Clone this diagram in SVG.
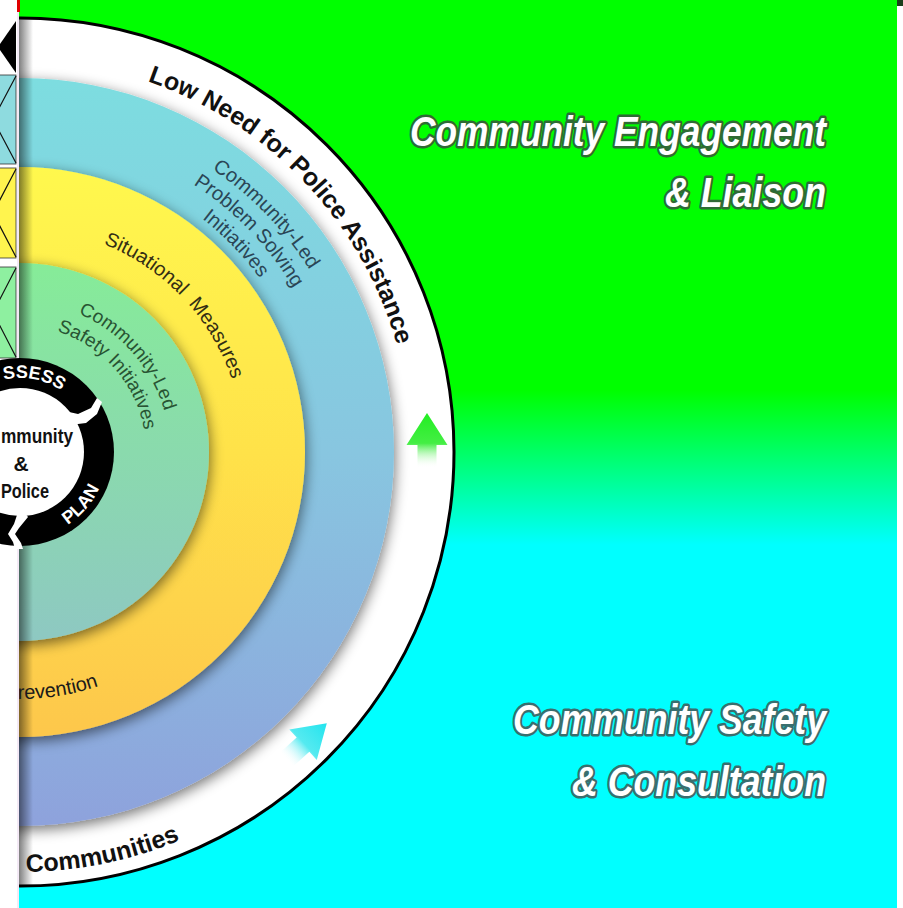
<svg xmlns="http://www.w3.org/2000/svg" width="903" height="908" viewBox="0 0 903 908">
<style>
.ring{font-family:"Liberation Sans",Arial,sans-serif;}
.big{font-family:"Liberation Sans",Arial,sans-serif;font-weight:bold;font-style:italic;font-size:42px;fill:#ffffff;paint-order:stroke;stroke-width:5;stroke-linejoin:round;text-anchor:end;}
.tile{stroke:#333;stroke-width:0.8;}
.x{stroke:#111;stroke-width:1.2;fill:none;}
</style>
<defs>
<linearGradient id="bg" x1="0" y1="0" x2="0" y2="908" gradientUnits="userSpaceOnUse">
<stop offset="0" stop-color="#00ff00"/><stop offset="0.43" stop-color="#00ff00"/><stop offset="0.6" stop-color="#00ffff"/><stop offset="1" stop-color="#00ffff"/>
</linearGradient>
<linearGradient id="blueG" x1="0" y1="78" x2="0" y2="826" gradientUnits="userSpaceOnUse">
<stop offset="0" stop-color="#7ddde0"/><stop offset="0.5" stop-color="#88c6e0"/><stop offset="1" stop-color="#8ea2dc"/>
</linearGradient>
<linearGradient id="yelG" x1="0" y1="167" x2="0" y2="737" gradientUnits="userSpaceOnUse">
<stop offset="0" stop-color="#fff84e"/><stop offset="0.5" stop-color="#ffe24a"/><stop offset="1" stop-color="#fdc74c"/>
</linearGradient>
<linearGradient id="grnG" x1="0" y1="262" x2="0" y2="642" gradientUnits="userSpaceOnUse">
<stop offset="0" stop-color="#86ec98"/><stop offset="1" stop-color="#8ec8c2"/>
</linearGradient>
<linearGradient id="edge" x1="19" y1="0" x2="33" y2="0" gradientUnits="userSpaceOnUse">
<stop offset="0" stop-color="#000" stop-opacity="0.5"/><stop offset="1" stop-color="#000" stop-opacity="0"/>
</linearGradient>
<linearGradient id="arrG" x1="0" y1="-28" x2="0" y2="27" gradientUnits="userSpaceOnUse">
<stop offset="0" stop-color="#22ee22"/><stop offset="0.55" stop-color="#44ee44"/><stop offset="1" stop-color="#ffffff" stop-opacity="0"/>
</linearGradient>
<linearGradient id="arrC" x1="0" y1="-28" x2="0" y2="27" gradientUnits="userSpaceOnUse">
<stop offset="0" stop-color="#22e4ee"/><stop offset="0.55" stop-color="#55eaf0"/><stop offset="1" stop-color="#ffffff" stop-opacity="0"/>
</linearGradient>
<filter id="ds" x="-20%" y="-20%" width="140%" height="140%">
<feGaussianBlur in="SourceAlpha" stdDeviation="7"/>
<feOffset dx="1" dy="4" result="b"/>
<feComponentTransfer><feFuncA type="linear" slope="0.55"/></feComponentTransfer>
<feMerge><feMergeNode/><feMergeNode in="SourceGraphic"/></feMerge>
</filter>
<clipPath id="outerClip"><circle cx="20" cy="452" r="434"/></clipPath>
<path id="pLow" d="M 147.6 81.4 A 392 392 0 0 1 406 520.1"/>
<path id="pB1" d="M 55.7 111.9 A 342 342 0 0 1 361.2 428.1"/>
<path id="pB2" d="M 53.3 134.8 A 319 319 0 0 1 338.2 429.7"/>
<path id="pB3" d="M 50.9 157.6 A 296 296 0 0 1 315.3 431.3"/>
<path id="pSit" d="M 43.4 229.2 A 224 224 0 0 1 243.7 440.3"/>
<path id="pG1" d="M 20 302 A 150 150 0 0 1 168.9 470.3"/>
<path id="pG2" d="M 20 326 A 126 126 0 0 1 145.1 467.4"/>
<path id="pPrev" d="M 17.8 699 A 247 247 0 0 0 209.2 610.8"/>
<path id="pComm" d="M 20 872 A 420 420 0 0 0 317 749"/>
<path id="pAss" d="M -11.3 384.9 A 74 74 0 0 1 84.1 415"/>
<path id="pPlan" d="M 49.8 533.8 A 87 87 0 0 0 105.7 436.9"/>
</defs>

<rect id="background" x="0" y="0" width="903" height="908" fill="url(#bg)"/>
<rect x="897" y="0" width="6" height="908" fill="#ffffff"/>
<rect x="897" y="0" width="6" height="6" fill="#1c3f1c"/>

<g id="outer-ring">
<circle cx="20" cy="452" r="434" fill="#ffffff" stroke="#000" stroke-width="3"/>
</g>
<g id="blue-ring">
<circle cx="20" cy="452" r="374" fill="url(#blueG)" filter="url(#ds)"/>
</g>
<g id="yellow-ring">
<circle cx="20" cy="452" r="285" fill="url(#yelG)" filter="url(#ds)"/>
</g>
<g id="green-disk">
<circle cx="20" cy="452" r="189" fill="url(#grnG)" filter="url(#ds)"/>
</g>
<rect x="19" y="0" width="14" height="908" fill="url(#edge)" clip-path="url(#outerClip)"/>

<g id="ring-labels" class="ring">
<text font-size="25" font-weight="bold" fill="#111"><textPath href="#pLow">Low Need for Police Assistance</textPath></text>
<text font-size="25" font-weight="bold" fill="#111"><textPath href="#pComm" startOffset="6">Communities</textPath></text>
<g fill="#2a4656" font-size="20" text-anchor="middle">
<text><textPath href="#pB1" startOffset="50%">Community-Led</textPath></text>
<text><textPath href="#pB2" startOffset="50%">Problem Solving</textPath></text>
<text><textPath href="#pB3" startOffset="50%">Initiatives</textPath></text>
</g>
<text fill="#332e14" font-size="20" text-anchor="middle"><textPath href="#pSit" startOffset="50%">Situational&#160; Measures</textPath></text>
<g fill="#285433" font-size="19" text-anchor="middle">
<text><textPath href="#pG1" startOffset="50%">Community-Led</textPath></text>
<text><textPath href="#pG2" startOffset="50%">Safety Initiatives</textPath></text>
</g>
<text fill="#1a1a1a" font-size="20"><textPath href="#pPrev">revention</textPath></text>
</g>

<g id="arrows">
<path transform="translate(427,441)" d="M 0 -28 L 20.5 4 L 9.5 4 L 9.5 27 L -9.5 27 L -9.5 4 L -20.5 4 Z" fill="url(#arrG)"/>
<path transform="translate(306,742) rotate(48)" d="M 0 -28 L 20.5 4 L 9.5 4 L 9.5 27 L -9.5 27 L -9.5 4 L -20.5 4 Z" fill="url(#arrC)"/>
</g>

<g id="left-strip">
<rect x="0" y="0" width="17" height="908" fill="#ffffff"/>
<rect x="17" y="0" width="2" height="908" fill="#f4eaf6"/>
<rect x="17" y="0" width="3" height="12" fill="#e00000"/>
<polygon points="16,21 16,73 -2,47" fill="#000"/>
<rect class="tile" x="-5" y="75" width="21" height="89" fill="#8edbdf"/>
<polyline class="x" points="16,76 -7,119.5 16,163"/>
<rect class="tile" x="-5" y="168" width="21" height="90" fill="#fff44e"/>
<polyline class="x" points="16,169 -7,213 16,257"/>
<rect class="tile" x="-5" y="267" width="21" height="91" fill="#8ef0a0"/>
<polyline class="x" points="16,268 -7,312.5 16,357"/>
</g>

<g id="center-hub">
<circle cx="20" cy="452" r="94" fill="#000"/>
<circle cx="20" cy="452" r="64" fill="#ffffff"/>
<path d="M 60 410 L 78 414 L 91 408 L 97 398 L 102 402 L 97 414 L 86 423 L 70 425 Z" fill="#ffffff"/>
<path d="M 24 512 L 28 517 L 19 528 L 15 534 L 21 543 L 23 549 L 15 549 L 13 542 L 8 534 L 14 524 L 18 512 Z" fill="#ffffff"/>
<g class="ring" fill="#ffffff" font-weight="bold" font-size="18">
<text><textPath href="#pAss" startOffset="16">SSESS</textPath></text>
<text><textPath href="#pPlan" startOffset="20">PLAN</textPath></text>
</g>
<g class="ring" font-weight="bold" font-size="21" fill="#111">
<text x="1" y="443" textLength="72" lengthAdjust="spacingAndGlyphs">mmunity</text>
<text x="21" y="471" text-anchor="middle">&amp;</text>
<text x="1" y="498" textLength="48" lengthAdjust="spacingAndGlyphs">Police</text>
</g>
</g>

<g id="labels">
<text class="big" x="826" y="146" stroke="#2f6a35" textLength="416" lengthAdjust="spacingAndGlyphs">Community Engagement</text>
<text class="big" x="826" y="207" stroke="#2f6a35" textLength="161" lengthAdjust="spacingAndGlyphs">&amp; Liaison</text>
<text class="big" x="826" y="734" stroke="#3a6e6e" textLength="313" lengthAdjust="spacingAndGlyphs">Community Safety</text>
<text class="big" x="826" y="796" stroke="#3a6e6e" textLength="254" lengthAdjust="spacingAndGlyphs">&amp; Consultation</text>
</g>
</svg>
